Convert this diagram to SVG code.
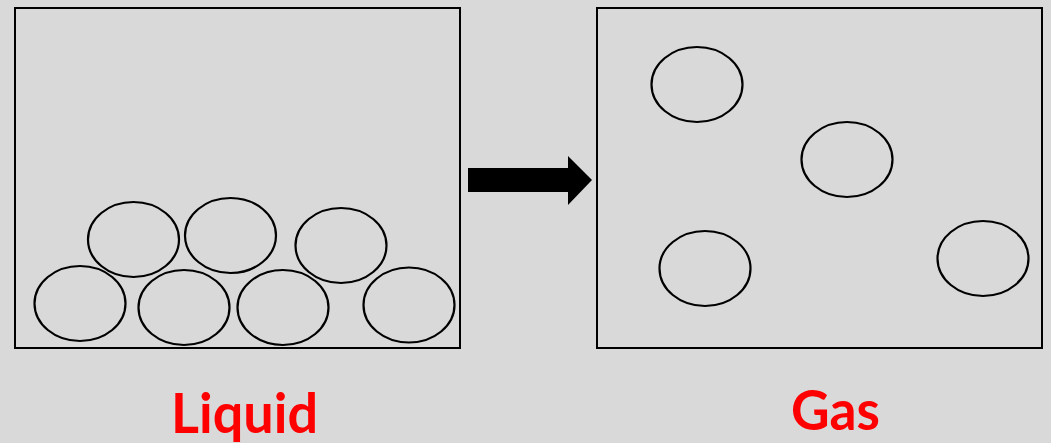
<svg xmlns="http://www.w3.org/2000/svg" width="1051" height="443" viewBox="0 0 1051 443">
<style>
.box{fill:none;stroke:#000;stroke-width:2}
.p{fill:none;stroke:#000;stroke-width:2.2}
.lbl{font-family:Lato,"Open Sans","Liberation Sans",sans-serif;font-weight:bold;font-size:56px;fill:#ff0000}
</style>
<rect width="1051" height="443" fill="#d9d9d9"/>
<g id="liquid">
<rect class="box" x="15" y="8" width="445" height="340"/>
<ellipse class="p" cx="80" cy="303.5" rx="45.5" ry="37.5"/>
<ellipse class="p" cx="133.5" cy="239.5" rx="45.5" ry="37.5"/>
<ellipse class="p" cx="184" cy="307.5" rx="45.5" ry="37.5"/>
<ellipse class="p" cx="230.5" cy="235.5" rx="45.5" ry="37.5"/>
<ellipse class="p" cx="283" cy="307.5" rx="45.5" ry="37.5"/>
<ellipse class="p" cx="341" cy="245.5" rx="45.5" ry="37.5"/>
<ellipse class="p" cx="409" cy="305" rx="45.5" ry="37.5"/>
</g>
<g id="gas">
<rect class="box" x="597" y="8" width="445" height="340"/>
<ellipse class="p" cx="697" cy="84.5" rx="45.5" ry="37.5"/>
<ellipse class="p" cx="847" cy="159.5" rx="45.5" ry="37.5"/>
<ellipse class="p" cx="705" cy="268.5" rx="45.5" ry="37.5"/>
<ellipse class="p" cx="983" cy="258.5" rx="45.5" ry="37.5"/>
</g>
<g id="connectors">
<polygon points="468,168 568,168 568,156 592,180 568,205 568,192 468,192" fill="#000"/>
</g>
<g id="labels">
<text class="lbl" x="171" y="433" textLength="147" lengthAdjust="spacingAndGlyphs">Liquid</text>
<text class="lbl" x="791" y="430" textLength="89" lengthAdjust="spacingAndGlyphs">Gas</text>
</g>
</svg>
